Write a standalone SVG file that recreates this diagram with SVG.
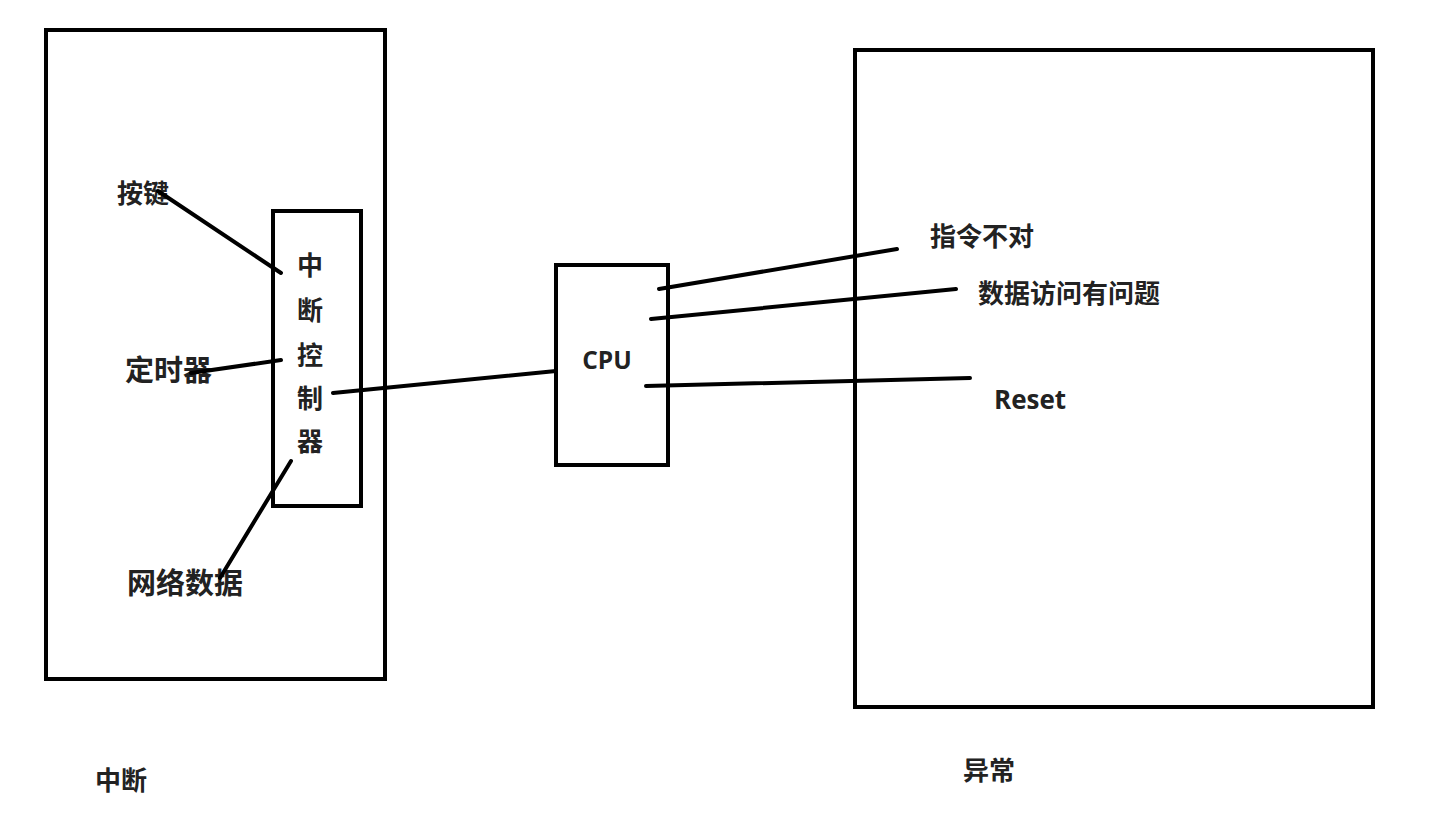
<svg xmlns="http://www.w3.org/2000/svg" width="1450" height="821" viewBox="0 0 1450 821">
<style>
.box{fill:none;stroke:#000;stroke-width:4}
.ln{stroke:#000;stroke-width:4;stroke-linecap:round;fill:none}
.t{font-family:"Noto Sans CJK SC","Liberation Sans",sans-serif;font-weight:bold;font-size:26px;fill:#222}
.l{font-size:29px}
.e{font-family:"Open Sans","Liberation Sans",sans-serif;font-weight:bold;fill:#222}
</style>
<rect width="1450" height="821" fill="#fff"/>
<g id="interrupt-area">
<rect class="box" x="46" y="30" width="339" height="649"/>
<text class="t" x="95" y="790">中断</text>
</g>
<g id="exception-area">
<rect class="box" x="855" y="50" width="518" height="657"/>
<text class="t" x="963" y="780">异常</text>
</g>
<g id="controller">
<rect class="box" x="273" y="211" width="88" height="295"/>
<text class="t" text-anchor="middle" x="310" y="275">中</text>
<text class="t" text-anchor="middle" x="310" y="320">断</text>
<text class="t" text-anchor="middle" x="310" y="365">控</text>
<text class="t" text-anchor="middle" x="310" y="408">制</text>
<text class="t" text-anchor="middle" x="310" y="451">器</text>
</g>
<g id="cpu">
<rect class="box" x="556" y="265" width="112" height="200"/>
<text class="e" font-size="24.5" text-anchor="middle" x="607" y="369">CPU</text>
</g>
<g id="key"><text class="t" x="117" y="203">按键</text></g>
<g id="timer"><text class="t l" x="125" y="381">定时器</text></g>
<g id="network"><text class="t l" x="127" y="594">网络数据</text></g>
<g id="bad-instr"><text class="t" x="930" y="246">指令不对</text></g>
<g id="data-access"><text class="t" font-size="27.2" x="978" y="303">数据访问有问题</text></g>
<g id="reset"><text class="e" font-size="26" x="994" y="409">Reset</text></g>
<g id="connectors">
<line class="ln" x1="158" y1="191" x2="281" y2="273"/>
<line class="ln" x1="191" y1="373" x2="281" y2="360"/>
<line class="ln" x1="220" y1="578" x2="291" y2="461"/>
<line class="ln" x1="333" y1="393" x2="556" y2="371"/>
<line class="ln" x1="659" y1="289" x2="897" y2="249"/>
<line class="ln" x1="651" y1="319" x2="956" y2="289"/>
<line class="ln" x1="646" y1="386" x2="970" y2="378"/>
</g>
</svg>
